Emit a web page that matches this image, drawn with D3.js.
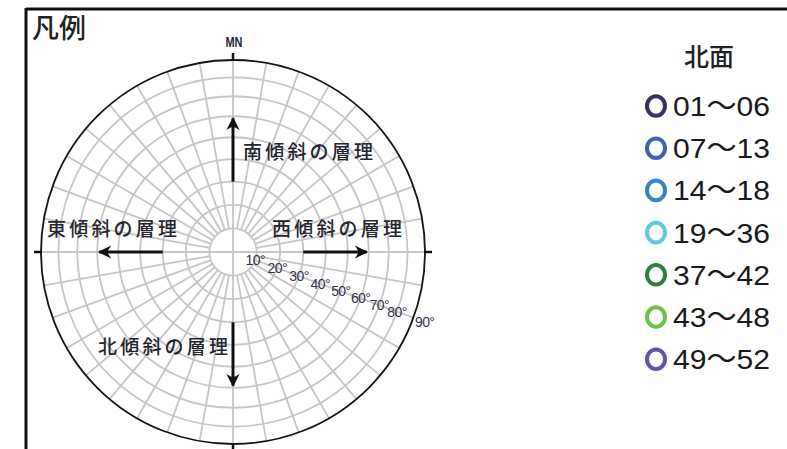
<!DOCTYPE html>
<html>
<head>
<meta charset="utf-8">
<script src="https://cdn.jsdelivr.net/npm/d3@7"></script>
<style>
  body { margin: 0; background: #fff; }
  svg { display: block; }
</style>
</head>
<body>
<div id="chart"></div>
<script>
// ring dips (degrees) and their labels
const dips = [10, 20, 30, 40, 50, 60, 70, 80, 90];
const dipLabels = ['10°', '20°', '30°', '40°', '50°', '60°', '70°', '80°', '90°'];

// arrows: screen direction (degrees, 0 = up, clockwise) and label
const arrowDirs = [0, 270, 90, 180];
const arrowLabels = ['南傾斜の層理', '東傾斜の層理', '西傾斜の層理', '北傾斜の層理'];

// legend
const legendTitle = '北面';
const legendLabels = ['01～06', '07～13', '14～18', '19～36', '37～42', '43～48', '49～52'];
const legendColors = ['#3b2f63', '#4163ab', '#3b82c4', '#62c7d9', '#2f7d45', '#6cbf47', '#6353a8'];

let visConfig = {
  width: 787,
  height: 449,
  cx: 233,
  cy: 252,
  radius: 192
};

let svg = d3.select('#chart')
  .append('svg')
  .attr('width', visConfig.width)
  .attr('height', visConfig.height)
  ;

// frame lines (top and left)
svg.append('line')
  .attr('x1', 26).attr('x2', visConfig.width)
  .attr('y1', 9).attr('y2', 9)
  .attr('stroke', '#111').attr('stroke-width', 3);
svg.append('line')
  .attr('x1', 26).attr('x2', 26)
  .attr('y1', 8).attr('y2', visConfig.height)
  .attr('stroke', '#111').attr('stroke-width', 3);

svg.append('text')
  .attr('x', 32).attr('y', 38)
  .attr('font-family', 'Noto Sans CJK JP')
  .attr('font-size', 27)
  .attr('font-weight', 500)
  .attr('fill', '#222')
  .text('凡例');

// equal-area projection: dip -> radius
function equalArea(dip) {
  return Math.SQRT2 * Math.sin(dip * Math.PI / 360);
}
let rScale = d3.scaleLinear()
  .domain([0, 1])
  .range([0, visConfig.radius]);
let rOf = (dip) => rScale(equalArea(dip));

let net = svg.append('g')
  .attr('transform', `translate(${visConfig.cx}, ${visConfig.cy})`);

// polar point, angle 0 = up, clockwise
function pt(r, deg) {
  let a = deg * Math.PI / 180;
  return [r * Math.sin(a), -r * Math.cos(a)];
}

// radial grid lines every 10 degrees
let azimuths = d3.range(0, 360, 10);
net.selectAll('.radial')
  .data(azimuths)
  .enter()
  .append('line')
  .attr('class', 'radial')
  .attr('x1', d => pt(d % 90 === 0 ? 0 : rOf(dips[0]), d)[0])
  .attr('y1', d => pt(d % 90 === 0 ? 0 : rOf(dips[0]), d)[1])
  .attr('x2', d => pt(rOf(90), d)[0])
  .attr('y2', d => pt(rOf(90), d)[1])
  .attr('stroke', '#c6c6c6')
  .attr('stroke-width', 1.8);

// concentric rings
net.selectAll('.ring')
  .data(dips.slice(0, -1))
  .enter()
  .append('circle')
  .attr('class', 'ring')
  .attr('r', d => rOf(d))
  .attr('fill', 'none')
  .attr('stroke', '#c6c6c6')
  .attr('stroke-width', 1.8);

// outer circle
net.append('circle')
  .attr('r', rOf(90))
  .attr('fill', 'none')
  .attr('stroke', '#151515')
  .attr('stroke-width', 1.8);

// cardinal ticks
net.selectAll('.tick')
  .data([0, 90, 180, 270])
  .enter()
  .append('line')
  .attr('x1', d => pt(rOf(90) - 1, d)[0])
  .attr('y1', d => pt(rOf(90) - 1, d)[1])
  .attr('x2', d => pt(rOf(90) + 7, d)[0])
  .attr('y2', d => pt(rOf(90) + 7, d)[1])
  .attr('stroke', '#111')
  .attr('stroke-width', 2.5);

net.append('text')
  .attr('x', 1).attr('y', -rOf(90) - 13)
  .attr('text-anchor', 'middle')
  .attr('font-family', 'Liberation Sans Narrow, Liberation Sans')
  .attr('font-weight', 'bold')
  .attr('font-size', 15)
  .attr('textLength', 17)
  .attr('lengthAdjust', 'spacingAndGlyphs')
  .attr('fill', '#1c2a3a')
  .text('MN');

// dip labels along a line ~20 degrees below east
let labelDir = 110;
net.selectAll('.dipLabel')
  .data(dips)
  .enter()
  .append('text')
  .attr('class', 'dipLabel')
  .attr('x', (d, i) => pt(rOf(d) + (d === 90 ? 12 : 0), labelDir)[0])
  .attr('y', (d, i) => pt(rOf(d) + (d === 90 ? 12 : 0), labelDir)[1] + 5)
  .attr('text-anchor', 'middle')
  .attr('font-family', 'Liberation Sans Narrow, Liberation Sans')
  .attr('font-size', 14)
  .attr('letter-spacing', -0.6)
  .attr('fill', '#33344a')
  .text((d, i) => dipLabels[i]);

// arrows
svg.append('defs')
  .append('marker')
  .attr('id', 'head')
  .attr('viewBox', '0 0 10 10')
  .attr('refX', 9).attr('refY', 5)
  .attr('markerWidth', 5.2).attr('markerHeight', 4.4)
  .attr('markerUnits', 'strokeWidth')
  .attr('orient', 'auto')
  .append('path')
  .attr('d', 'M0,0 L10,5 L0,10 L3,5 Z')
  .attr('fill', '#111');

net.selectAll('.arrow')
  .data(arrowDirs)
  .enter()
  .append('line')
  .attr('class', 'arrow')
  .attr('x1', d => pt(rOf(30), d)[0])
  .attr('y1', d => pt(rOf(30), d)[1])
  .attr('x2', d => pt(rOf(60) - 2, d)[0])
  .attr('y2', d => pt(rOf(60) - 2, d)[1])
  .attr('stroke', '#111')
  .attr('stroke-width', 3)
  .attr('marker-end', 'url(#head)');

// arrow label positions (text start x, baseline y) in page coordinates
let arrowLabelPos = [[243, 159], [47, 236], [272, 236], [98, 354]];
svg.selectAll('.arrowLabel')
  .data(arrowLabels)
  .enter()
  .append('text')
  .attr('class', 'arrowLabel')
  .attr('x', (d, i) => arrowLabelPos[i][0])
  .attr('y', (d, i) => arrowLabelPos[i][1])
  .attr('font-family', 'Noto Sans CJK JP')
  .attr('font-size', 19)
  .attr('font-weight', 500)
  .attr('textLength', 130)
  .attr('lengthAdjust', 'spacing')
  .attr('fill', '#262630')
  .text(d => d);

// legend
let legend = svg.append('g');
legend.append('text')
  .attr('x', 684).attr('y', 66)
  .attr('font-family', 'Noto Sans CJK JP')
  .attr('font-size', 25)
  .attr('font-weight', 500)
  .attr('fill', '#222')
  .text(legendTitle);

let rows = legend.selectAll('.row')
  .data(legendLabels)
  .enter()
  .append('g')
  .attr('class', 'row')
  .attr('transform', (d, i) => `translate(0, ${106 + i * 42.2})`);

rows.append('ellipse')
  .attr('cx', 656)
  .attr('rx', 9)
  .attr('ry', 9.8)
  .attr('fill', 'none')
  .attr('stroke', (d, i) => legendColors[i])
  .attr('stroke-width', 4);

rows.append('text')
  .attr('x', 673)
  .attr('y', 10)
  .attr('font-family', 'Liberation Sans Narrow, Liberation Sans, Noto Sans CJK JP')
  .attr('font-size', 28)
  .attr('textLength', 97)
  .attr('lengthAdjust', 'spacingAndGlyphs')
  .attr('fill', '#1a1a1a')
  .text(d => d);
</script>
</body>
</html>
